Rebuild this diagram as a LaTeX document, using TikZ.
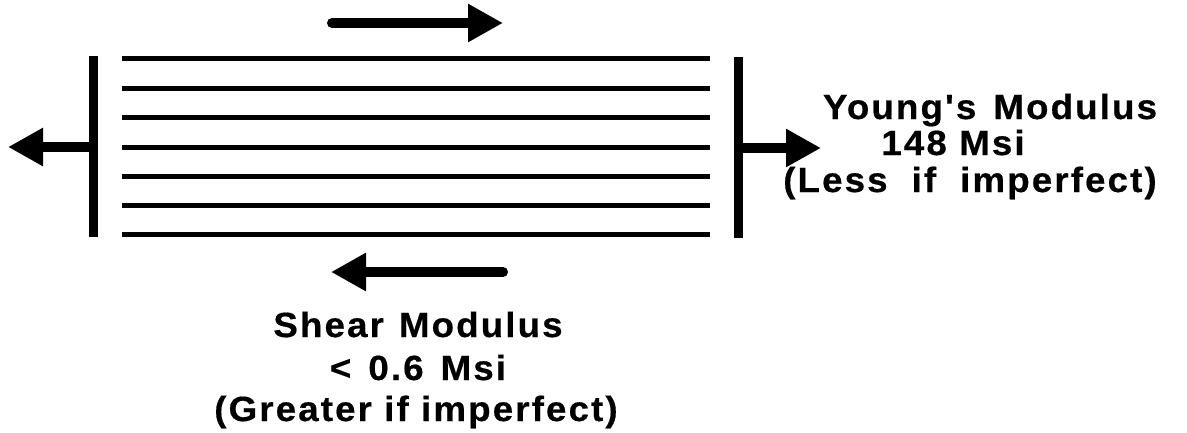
\documentclass[tikz,border=0pt]{standalone}
\usepackage{fontspec}
\newfontfamily\labfont{Liberation Sans}[LetterSpace=6,FakeStretch=1.05,FakeBold=0.5]
\usetikzlibrary{arrows.meta}
\begin{document}
\begin{tikzpicture}[x=1pt,y=-1pt,
  fiber/.style={line width=5pt},
  clampbar/.style={line width=9pt},
  bigarrow/.style={line width=10pt,-{Triangle[length=35pt,width=36pt]}},
  roundarrow/.style={bigarrow,line cap=round},
  lab/.style={anchor=base,inner sep=0pt,font=\labfont\bfseries\fontsize{35}{40}\selectfont}]
\useasboundingbox (0,0) rectangle (1187,432);
% fibers
\foreach \i/\y in {1/58,2/88,3/117,4/147,5/176,6/205,7/234}{
  \coordinate (fl\i) at (122,\y);
  \coordinate (fr\i) at (710,\y);
  \draw[fiber] (fl\i) -- (fr\i);
}
% clamps
\coordinate (lbt) at (93,56); \coordinate (lbb) at (93,237);
\coordinate (rbt) at (738,57); \coordinate (rbb) at (738,238);
\draw[clampbar] (lbt) -- (lbb);
\draw[clampbar] (rbt) -- (rbb);
% tensile arrows
\coordinate (lstart) at (93,147); \coordinate (ltip) at (8,147);
\coordinate (rstart) at (738,148); \coordinate (rtip) at (821,148);
\draw[bigarrow] (lstart) -- (ltip);
\draw[bigarrow] (rstart) -- (rtip);
% shear arrows
\coordinate (tstart) at (332,23); \coordinate (ttip) at (503,23);
\coordinate (bstart) at (503,272); \coordinate (btip) at (331,272);
\draw[roundarrow] (tstart) -- (ttip);
\draw[roundarrow] (bstart) -- (btip);
% labels
\node[lab] (y1) at (990,119) {\spaceskip=17pt\relax Young's Modulus};
\node[lab] (y2) at (953,155) {148 Msi};
\node[lab] (y3) at (970,192) {\spaceskip=24pt\relax (Less if imperfect)};
\node[lab] (s1) at (418,337) {\spaceskip=15pt\relax Shear Modulus};
\node[lab] (s2) at (418,380) {\spaceskip=17pt\relax < 0.6 Msi};
\node[lab] (s3) at (416,421) {(Greater if imperfect)};
\end{tikzpicture}
\end{document}
